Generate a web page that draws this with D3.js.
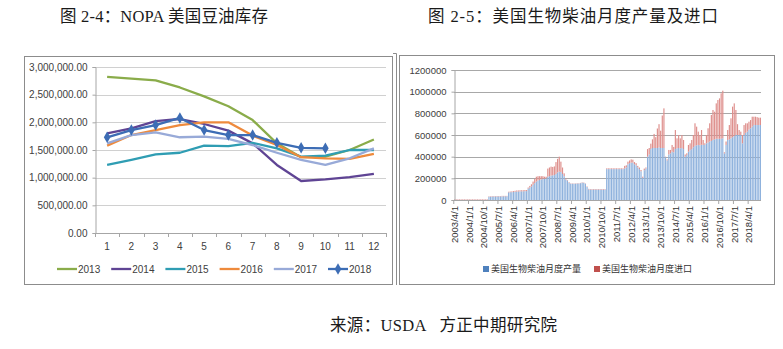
<!DOCTYPE html>
<html>
<head>
<meta charset="utf-8">
<script src="https://cdn.jsdelivr.net/npm/d3@7"></script>
<style>
  html, body { margin: 0; padding: 0; background: #fff; }
  svg { display: block; }
  .tick-txt { font-family: "Liberation Sans", Arial, sans-serif; fill: #404040; }
  .title { font-family: "Liberation Serif", "Noto Sans CJK SC", serif; fill: #1a1a1a; }
</style>
</head>
<body>
<svg id="chart" width="783" height="349"></svg>
<script>
// ---- NOPA soybean oil stocks, by month, one series per year ----
const stockMonths = [1, 2, 3, 4, 5, 6, 7, 8, 9, 10, 11, 12];
const stockYears = ["2013", "2014", "2015", "2016", "2017", "2018"];
const stocks2013 = [2820000, 2790000, 2760000, 2630000, 2470000, 2290000, 2040000, 1620000, 1370000, 1380000, 1500000, 1690000];
const stocks2014 = [1800000, 1890000, 2020000, 2060000, 1970000, 1850000, 1620000, 1230000, 940000, 970000, 1010000, 1070000];
const stocks2015 = [1230000, 1320000, 1420000, 1450000, 1580000, 1570000, 1630000, 1530000, 1380000, 1400000, 1500000, 1500000];
const stocks2016 = [1580000, 1770000, 1860000, 1950000, 2000000, 2000000, 1760000, 1590000, 1370000, 1350000, 1340000, 1430000];
const stocks2017 = [1620000, 1770000, 1820000, 1730000, 1740000, 1700000, 1590000, 1450000, 1320000, 1230000, 1350000, 1530000];
const stocks2018 = [1730000, 1860000, 1950000, 2080000, 1860000, 1770000, 1770000, 1630000, 1540000, 1530000];
const stockTicks = [0, 500000, 1000000, 1500000, 2000000, 2500000, 3000000];

// ---- US biodiesel monthly production and imports (thousands), 2003/4 onward ----
const bioStart = new Date(2003, 3, 1);
const bioUnit = 1000;
const bioProduction = [
  1, 1, 1, 1, 1, 1, 1, 1, 1,
  1, 1, 1, 1, 1, 1, 1, 1, 1, 1, 1, 1,
  30, 30, 32, 32, 32, 33, 33, 33, 34, 34, 34, 34,
  70, 72, 72, 75, 76, 78, 78, 80, 80, 80, 82, 82,
  105, 115, 125, 140, 155, 170, 180, 185, 190, 195, 195, 200,
  215, 220, 225, 228, 230, 240, 255, 262, 258, 240, 220, 190,
  180, 160, 150, 150, 150, 150, 152, 152, 155, 160, 158, 150,
  120, 98, 96, 96, 96, 96, 96, 96, 96, 96, 96, 96,
  285, 285, 285, 285, 285, 285, 285, 285, 285, 285, 285, 290,
  300, 330, 340, 345, 345, 330, 320, 300, 285, 265, 205, 275,
  290, 400, 420, 470, 480, 480, 480, 480, 485, 480, 480, 480,
  395, 365, 420, 431, 446, 440, 470, 477, 480, 477, 480, 470,
  400, 415, 446, 460, 470, 487, 500, 505, 508, 505, 510, 508,
  510, 523, 530, 540, 545, 554, 560, 565, 565, 565, 565, 570,
  430, 508, 554, 560, 569, 580, 590, 600, 600, 600, 600, 523,
  600, 620, 631, 650, 662, 677, 692, 692, 692, 692, 692
];
const bioImports = [
  5, 5, 5, 5, 5, 5, 5, 5, 5,
  5, 5, 5, 5, 5, 5, 5, 5, 5, 5, 5, 5,
  4, 4, 4, 4, 4, 4, 4, 4, 4, 4, 4, 4,
  6, 6, 7, 8, 9, 10, 10, 10, 10, 10, 10, 10,
  10, 15, 20, 30, 40, 45, 40, 35, 30, 25, 20, 15,
  75, 80, 83, 77, 80, 110, 125, 138, 96, 60, 26, 10,
  5, 5, 3, 3, 3, 3, 3, 3, 3, 3, 3, 3,
  5, 5, 5, 5, 5, 5, 5, 5, 5, 5, 5, 5,
  7, 7, 7, 7, 7, 7, 7, 7, 7, 7, 7, 25,
  20, 24, 25, 30, 27, 20, 20, 15, 15, 12, 10, 15,
  10, 70, 60, 50, 80, 130, 100, 180, 215, 160, 300, 366,
  5, 10, 42, 31, 62, 50, 176, 92, 120, 92, 120, 84,
  20, 16, 62, 63, 84, 113, 208, 172, 123, 95, 136, 46,
  13, 77, 132, 168, 240, 277, 255, 327, 358, 373, 420, 439,
  10, 32, 92, 132, 185, 282, 302, 231, 100, 46, 31, 77,
  92, 88, 77, 73, 76, 92, 77, 77, 73, 68, 68
];
const bioTicks = [0, 200000, 400000, 600000, 800000, 1000000, 1200000];
const bioLabelEvery = 9;
const bioSeriesNames = ["美国生物柴油月度产量", "美国生物柴油月度进口"];

const svg = d3.select("#chart");
svg.append("rect").attr("width", 783).attr("height", 349).attr("fill", "#fff");

// ---------------- titles and source ----------------
function title(x, y, width, text) {
  svg.append("text").attr("class", "title").attr("x", x).attr("y", y)
    .attr("textLength", width).attr("lengthAdjust", "spacing")
    .attr("xml:space", "preserve")
    .style("font-size", "16.5px").text(text);
}
title(60, 22, 208, "图 2-4：NOPA 美国豆油库存");
title(428, 22, 290, "图 2-5：美国生物柴油月度产量及进口");
title(330, 331, 227, "来源：USDA   方正中期研究院");

// ---------------- left: soybean oil stocks ----------------
const L = svg.append("g");
L.append("rect").attr("x", 24.5).attr("y", 56.5).attr("width", 368).attr("height", 228)
  .attr("fill", "none").attr("stroke", "#8c8c8c");

const xL = d3.scaleBand().domain(stockMonths).range([95, 386]);
const yL = d3.scaleLinear().domain([0, 3000000]).range([233, 67]);

// gridlines
L.append("g").selectAll("line").data(stockTicks.filter(d => d > 0)).join("line")
  .attr("x1", 95).attr("x2", 386)
  .attr("y1", d => Math.round(yL(d)) + 0.5).attr("y2", d => Math.round(yL(d)) + 0.5)
  .attr("stroke", "#d0d0d0");

// y axis
const yAxisL = L.append("g").attr("transform", "translate(95.5,0)")
  .call(d3.axisLeft(yL).tickValues(stockTicks).tickFormat(d3.format(",.2f")).tickSize(3).tickPadding(5));
yAxisL.select(".domain").attr("stroke", "#a6a6a6");
yAxisL.selectAll(".tick line").attr("stroke", "#a6a6a6");
yAxisL.selectAll(".tick text").attr("class", "tick-txt").style("font-size", "10px").attr("fill", "#404040");

// x axis: line with boundary ticks, labels centred in each band
L.append("line").attr("x1", 95).attr("x2", 386).attr("y1", 233.5).attr("y2", 233.5).attr("stroke", "#a6a6a6");
const bounds = stockMonths.map(m => xL(m)).concat([xL.range()[1]]);
L.append("g").selectAll("line").data(bounds).join("line")
  .attr("x1", d => Math.round(d) + 0.5).attr("x2", d => Math.round(d) + 0.5)
  .attr("y1", 233).attr("y2", 237).attr("stroke", "#a6a6a6");
L.append("g").selectAll("text").data(stockMonths).join("text")
  .attr("class", "tick-txt").style("font-size", "10px")
  .attr("x", d => xL(d) + xL.bandwidth() / 2).attr("y", 250)
  .attr("text-anchor", "middle").text(d => d);

const stockSeries = [
  { name: "2013", values: stocks2013, color: "#8aac4a" },
  { name: "2014", values: stocks2014, color: "#5f4494" },
  { name: "2015", values: stocks2015, color: "#2f9db3" },
  { name: "2016", values: stocks2016, color: "#ee8a3c" },
  { name: "2017", values: stocks2017, color: "#98aad8" },
  { name: "2018", values: stocks2018, color: "#3d6db5", marker: true }
];

const lineL = d3.line()
  .x((d, i) => xL(stockMonths[i]) + xL.bandwidth() / 2)
  .y(d => yL(d));

const diamond = d3.symbol().type(d3.symbolDiamond).size(38);

stockSeries.forEach(s => {
  L.append("path").attr("d", lineL(s.values)).attr("fill", "none")
    .attr("stroke", s.color).attr("stroke-width", 2.3).attr("stroke-linejoin", "round");
  if (s.marker) {
    L.append("g").selectAll("path").data(s.values).join("path")
      .attr("d", diamond)
      .attr("transform", (d, i) => `translate(${xL(stockMonths[i]) + xL.bandwidth() / 2},${yL(d)})`)
      .attr("fill", s.color);
  }
});

// legend
const legL = L.append("g").attr("transform", "translate(57,269)");
stockSeries.forEach((s, i) => {
  const g = legL.append("g").attr("transform", `translate(${i * 54.2},0)`);
  g.append("line").attr("x1", 0).attr("x2", 20).attr("y1", 0).attr("y2", 0)
    .attr("stroke", s.color).attr("stroke-width", 2.3);
  if (s.marker) g.append("path").attr("d", diamond).attr("transform", "translate(10,0)").attr("fill", s.color);
  g.append("text").attr("class", "tick-txt").style("font-size", "10px")
    .attr("x", 21).attr("y", 3.6).text(s.name);
});

// ---------------- right: biodiesel production and imports ----------------
const R = svg.append("g");
R.append("rect").attr("x", 399.5).attr("y", 55.5).attr("width", 375).attr("height", 229)
  .attr("fill", "none").attr("stroke", "#8c8c8c");
R.append("path").attr("d", "M393,53.5H396.5V285").attr("fill", "none").attr("stroke", "#8c8c8c");

const bioRows = bioProduction.map((p, i) => ({
  date: d3.timeMonth.offset(bioStart, i),
  production: p * bioUnit,
  imports: bioImports[i] * bioUnit
}));

const xR = d3.scaleBand().domain(bioRows.map(d => d.date)).range([454, 761]).paddingInner(0.28);
const yR = d3.scaleLinear().domain([0, 1200000]).range([200, 70]);

R.append("g").selectAll("line").data(bioTicks.filter(d => d > 0)).join("line")
  .attr("x1", 454).attr("x2", 761)
  .attr("y1", d => Math.round(yR(d)) + 0.5).attr("y2", d => Math.round(yR(d)) + 0.5)
  .attr("stroke", "#a8a8a8");

const stack = d3.stack().keys(["production", "imports"]);
const layers = stack(bioRows);
const barColors = ["#8fb2dd", "#de8f8c"];

R.append("g").selectAll("g").data(layers).join("g")
  .attr("fill", (d, i) => barColors[i])
  .selectAll("rect").data(d => d).join("rect")
  .attr("x", d => xR(d.data.date))
  .attr("width", xR.bandwidth())
  .attr("y", d => yR(d[1]))
  .attr("height", d => Math.max(0, yR(d[0]) - yR(d[1])));

const yAxisR = R.append("g").attr("transform", "translate(454.5,0)")
  .call(d3.axisLeft(yR).tickValues(bioTicks).tickFormat(d3.format("d")).tickSize(3).tickPadding(5));
yAxisR.select(".domain").attr("stroke", "#a6a6a6");
yAxisR.selectAll(".tick line").attr("stroke", "#a6a6a6");
yAxisR.selectAll(".tick text").attr("class", "tick-txt").style("font-size", "9.5px").attr("fill", "#404040");

R.append("line").attr("x1", 454).attr("x2", 761).attr("y1", 200.5).attr("y2", 200.5).attr("stroke", "#a6a6a6");

const fmtDate = d3.timeFormat("%Y/%-m/%-d");
const labelRows = bioRows.filter((d, i) => i % bioLabelEvery === 0);
const step = xR.step();
R.append("g").selectAll("line").data(labelRows).join("line")
  .attr("x1", d => xR(d.date) + xR.bandwidth() / 2 - step / 2)
  .attr("x2", d => xR(d.date) + xR.bandwidth() / 2 - step / 2)
  .attr("y1", 200).attr("y2", 204).attr("stroke", "#a6a6a6");
R.append("g").selectAll("text").data(labelRows).join("text")
  .attr("class", "tick-txt").style("font-size", "9.5px").style("fill", "#333")
  .attr("transform", d => `translate(${xR(d.date) + xR.bandwidth() / 2},206) rotate(-90)`)
  .attr("text-anchor", "end").attr("dy", "0.35em")
  .text(d => fmtDate(d.date));

// legend
const legR = R.append("g").attr("transform", "translate(483,269)");
const legendSwatch = ["#4f81bd", "#c0504d"];
const legendX = [0, 111];
bioSeriesNames.forEach((name, i) => {
  const g = legR.append("g").attr("transform", `translate(${legendX[i]},0)`);
  g.append("rect").attr("x", 0).attr("y", -3).attr("width", 6).attr("height", 6).attr("fill", legendSwatch[i]);
  g.append("text").attr("x", 8).attr("y", 3.3)
    .style("font-family", '"Noto Sans CJK SC", sans-serif').style("font-size", "9px")
    .attr("fill", "#333").text(name);
});
</script>
</body>
</html>
